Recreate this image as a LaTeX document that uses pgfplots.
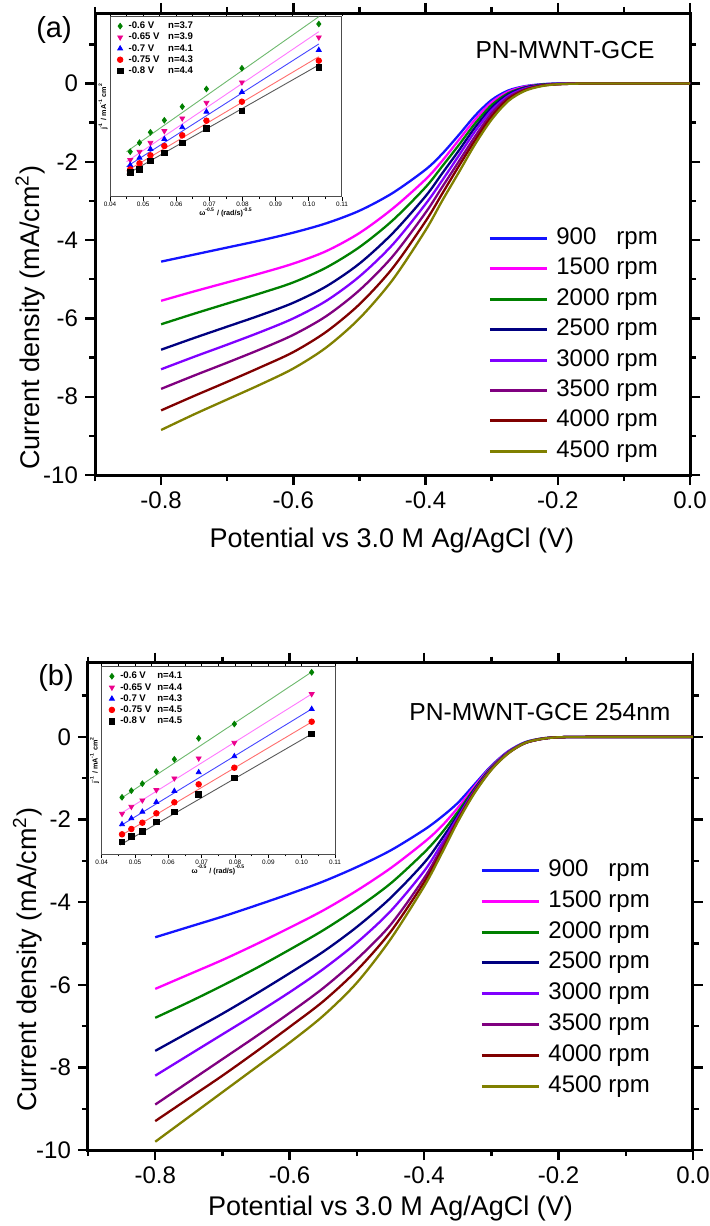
\documentclass[border=0pt]{standalone}
\usepackage{fontspec}
\setmainfont{Liberation Sans}
\usepackage{pgfplots}
\pgfplotsset{compat=1.18}
\usepackage{pgfplotstable}

\definecolor{c900}{RGB}{20,20,255}
\definecolor{c1500}{RGB}{255,0,255}
\definecolor{c2000}{RGB}{0,128,0}
\definecolor{c2500}{RGB}{0,0,128}
\definecolor{c3000}{RGB}{128,0,255}
\definecolor{c3500}{RGB}{128,0,128}
\definecolor{c4000}{RGB}{128,0,0}
\definecolor{c4500}{RGB}{128,128,0}
\definecolor{lgreen}{RGB}{110,185,110}
\definecolor{lmag}{RGB}{255,120,255}
\definecolor{lblue}{RGB}{70,70,255}
\definecolor{lred}{RGB}{255,110,110}
\definecolor{lgray}{RGB}{90,90,90}

\pgfplotstableread{
x a900 a1500 a2000 a2500 a3000 a3500 a4000 a4500
-0.800 -4.55 -5.55 -6.15 -6.80 -7.30 -7.80 -8.35 -8.85
-0.750 -4.37 -5.31 -5.88 -6.50 -6.98 -7.46 -7.98 -8.45
-0.700 -4.19 -5.08 -5.62 -6.21 -6.67 -7.13 -7.62 -8.07
-0.650 -4.01 -4.85 -5.36 -5.92 -6.35 -6.79 -7.25 -7.69
-0.600 -3.81 -4.60 -5.08 -5.60 -6.00 -6.42 -6.86 -7.28
-0.550 -3.57 -4.28 -4.70 -5.18 -5.55 -5.94 -6.34 -6.74
-0.500 -3.25 -3.82 -4.18 -4.60 -4.93 -5.28 -5.64 -6.00
-0.450 -2.80 -3.20 -3.50 -3.83 -4.12 -4.42 -4.72 -5.02
-0.400 -2.20 -2.45 -2.65 -2.88 -3.08 -3.30 -3.52 -3.75
-0.375 -1.80 -1.98 -2.12 -2.30 -2.48 -2.65 -2.82 -3.00
-0.350 -1.32 -1.45 -1.58 -1.72 -1.85 -2.00 -2.12 -2.28
-0.325 -0.82 -0.92 -1.02 -1.12 -1.22 -1.35 -1.45 -1.55
-0.300 -0.42 -0.48 -0.55 -0.62 -0.68 -0.76 -0.84 -0.92
-0.275 -0.18 -0.21 -0.25 -0.28 -0.32 -0.36 -0.40 -0.45
-0.250 -0.07 -0.08 -0.10 -0.11 -0.13 -0.15 -0.17 -0.19
-0.225 -0.02 -0.03 -0.03 -0.04 -0.05 -0.05 -0.06 -0.07
-0.200 0.00 -0.01 -0.01 -0.01 -0.01 -0.02 -0.02 -0.02
-0.150 0 0 0 0 0 0 0 0
0.000 0 0 0 0 0 0 0 0
}\curvesA

\pgfplotstableread{
x b900 b1500 b2000 b2500 b3000 b3500 b4000 b4500
-0.800 -4.85 -6.10 -6.80 -7.60 -8.20 -8.90 -9.30 -9.80
-0.750 -4.60 -5.75 -6.42 -7.15 -7.70 -8.35 -8.75 -9.20
-0.700 -4.35 -5.40 -6.02 -6.70 -7.20 -7.80 -8.20 -8.60
-0.650 -4.08 -5.02 -5.60 -6.22 -6.70 -7.25 -7.62 -8.00
-0.600 -3.80 -4.62 -5.15 -5.72 -6.18 -6.68 -7.02 -7.40
-0.550 -3.50 -4.20 -4.68 -5.20 -5.62 -6.08 -6.40 -6.75
-0.500 -3.15 -3.72 -4.15 -4.60 -4.98 -5.38 -5.65 -5.95
-0.450 -2.75 -3.18 -3.55 -3.90 -4.22 -4.55 -4.72 -4.90
-0.400 -2.25 -2.55 -2.80 -3.05 -3.25 -3.42 -3.52 -3.62
-0.375 -1.95 -2.18 -2.35 -2.50 -2.62 -2.72 -2.80 -2.86
-0.350 -1.60 -1.72 -1.82 -1.90 -1.95 -2.00 -2.03 -2.06
-0.325 -1.15 -1.20 -1.25 -1.28 -1.30 -1.32 -1.34 -1.36
-0.300 -0.70 -0.72 -0.74 -0.76 -0.77 -0.78 -0.79 -0.80
-0.275 -0.35 -0.36 -0.37 -0.38 -0.38 -0.39 -0.40 -0.40
-0.250 -0.13 -0.14 -0.14 -0.15 -0.15 -0.15 -0.15 -0.15
-0.225 -0.04 -0.04 -0.04 -0.05 -0.05 -0.05 -0.05 -0.05
-0.200 -0.01 -0.01 -0.01 -0.01 -0.01 -0.01 -0.01 -0.01
-0.150 0 0 0 0 0 0 0 0
0.000 0 0 0 0 0 0 0 0
}\curvesB

% inset (a): x = omega^-0.5, y in plot units
\pgfplotstableread{
x g m b r k
0.0461 45.0 36.7 31.7 27.4 24.4
0.0489 54.0 45.0 39.0 33.4 27.4
0.0522 64.4 54.0 47.7 41.4 35.7
0.0564 76.4 65.7 57.7 50.7 44.0
0.0618 90.0 78.4 69.4 61.4 54.0
0.0691 107.7 94.0 85.0 76.0 68.4
0.0798 128.4 114.4 104.7 95.0 85.7
0.1030 172.7 159.4 146.7 136.0 129.4
}\insetA

\pgfplotstableread{
x g m b r k
0.0461 56.7 40.3 29.7 19.7 12.0
0.0489 63.3 47.3 35.7 25.0 17.7
0.0522 70.3 53.7 42.3 31.3 22.7
0.0564 82.3 64.0 52.0 40.7 32.0
0.0618 94.7 75.7 63.0 51.7 42.0
0.0691 115.7 95.7 81.7 69.7 59.7
0.0798 130.0 111.3 97.7 86.3 76.3
0.1030 181.7 160.0 145.0 132.3 120.0
}\insetB

\pgfplotsset{
 mainax/.style={
  scale only axis, xmin=-0.9, xmax=0, ymin=-10, ymax=1.8,
  axis line style={line width=1.5pt},
  xtick={-0.8,-0.6,-0.4,-0.2,0}, xticklabels={-0.8,-0.6,-0.4,-0.2,0.0},
  minor xtick={-0.9,-0.7,-0.5,-0.3,-0.1},
  ytick={-10,-8,-6,-4,-2,0}, yticklabels={-10,-8,-6,-4,-2,0},
  minor ytick={-9,-7,-5,-3,-1,1},
  tick align=outside, major tick length=5pt, minor tick length=3pt,
  tick style={line width=1.2pt, black},
  ticklabel style={font=\fontsize{12}{14}\selectfont},
  label style={font=\fontsize{13.5}{16}\selectfont},
  legend cell align=left,
  legend image code/.code={\draw[##1, line width=1.5pt] (0pt,0pt) -- (28.5pt,0pt);},
  legend style={draw=none, fill=none, anchor=north west, inner sep=0pt,
    column sep=4pt, font=\fontsize{12}{14}\selectfont,
    nodes={inner sep=0pt, text height=9pt, text depth=3pt}},
 },
 curve/.style={line width=1.15pt, smooth, tension=0.5},
 inset/.style={
  scale only axis, xmin=0.04, xmax=0.11,
  axis background/.style={fill=white},
  axis line style={line width=0.5pt, black!70},
  xtick={0.04,0.05,0.06,0.07,0.08,0.09,0.10,0.11},
  xticklabels={0.04,0.05,0.06,0.07,0.08,0.09,0.10,0.11},
  minor xtick={0.045,0.055,0.065,0.075,0.085,0.095,0.105},
  ytick=\empty,
  tick align=outside, major tick length=2pt, minor tick length=1.2pt,
  tick style={line width=0.4pt, black},
  ticklabel style={font=\fontsize{3.2}{4}\selectfont, inner sep=0.6pt},
  label style={font=\fontsize{3.6}{4.2}\selectfont\bfseries},
  ylabel={j\textsuperscript{-1} / mA\textsuperscript{-1} cm\textsuperscript{2}},
  xlabel={ω\textsuperscript{-0.5} / (rad/s)\textsuperscript{-0.5}},
  xlabel style={at={(axis description cs:0.5,-0.085)}, anchor=center},
  ylabel style={at={(axis description cs:-0.03,0.5)}, anchor=center, rotate=0},
  legend cell align=left,
  legend image code/.code={\draw[##1] plot coordinates {(1.3pt,0pt)};},
  legend style={draw=none, fill=none, anchor=north west, inner sep=0pt,
    column sep=2.5pt, row sep=0.4pt, font=\fontsize{4.8}{5}\selectfont\bfseries,
    nodes={inner sep=0.3pt, text height=3.6pt, text depth=1pt}},
 },
 fitl/.style={line width=0.45pt},
 mk/.style={only marks, mark size=1.4pt},
}

\begin{document}
\begin{tikzpicture}
\useasboundingbox (0,0) rectangle (355pt,-613pt);

\node[font=\fontsize{14.5}{17}\selectfont] at (27pt,-15pt) {(a)};
\node[font=\fontsize{14.5}{17}\selectfont] at (28pt,-339pt) {(b)};

% ---------- panel (a)
\begin{axis}[mainax, at={(47.5pt,-237.5pt)}, anchor=south west,
  width=297.5pt, height=231pt,
  xlabel={Potential vs 3.0 M Ag/AgCl (V)},
  ylabel={Current density (mA/cm\textsuperscript{2})},
  xlabel style={at={(axis description cs:0.499,-0.141)}, anchor=center},
  ylabel style={at={(axis description cs:-0.109,0.34)}, anchor=center},
  legend style={at={(axis description cs:0.6605,0.5386)}, row sep=3.2pt},
]
\addplot[curve, c900]  table[x=x,y=a900]  {\curvesA}; \addlegendentry{900\hphantom{0} rpm}
\addplot[curve, c1500] table[x=x,y=a1500] {\curvesA}; \addlegendentry{1500 rpm}
\addplot[curve, c2000] table[x=x,y=a2000] {\curvesA}; \addlegendentry{2000 rpm}
\addplot[curve, c2500] table[x=x,y=a2500] {\curvesA}; \addlegendentry{2500 rpm}
\addplot[curve, c3000] table[x=x,y=a3000] {\curvesA}; \addlegendentry{3000 rpm}
\addplot[curve, c3500] table[x=x,y=a3500] {\curvesA}; \addlegendentry{3500 rpm}
\addplot[curve, c4000] table[x=x,y=a4000] {\curvesA}; \addlegendentry{4000 rpm}
\addplot[curve, c4500] table[x=x,y=a4500] {\curvesA}; \addlegendentry{4500 rpm}
\node[font=\fontsize{12.3}{14}\selectfont] at (axis description cs:0.79,0.919) {PN-MWNT-GCE};
\end{axis}

\begin{axis}[inset, at={(55pt,-98.35pt)}, anchor=south west,
  width=116pt, height=90.35pt, ymin=0, ymax=180.7,
  legend style={at={(axis description cs:0.03,0.975)}},
]
\addplot[fitl, lgreen, forget plot] coordinates {(0.045,45) (0.103,180)};
\addplot[fitl, lmag, forget plot] coordinates {(0.045,35) (0.103,165)};
\addplot[fitl, lblue, forget plot] coordinates {(0.045,30) (0.103,152.7)};
\addplot[fitl, lred, forget plot] coordinates {(0.045,25.7) (0.103,140)};
\addplot[fitl, lgray, forget plot] coordinates {(0.045,22.4) (0.103,131.7)};
\addplot[mk, mark=diamond*, color=c2000] table[x=x,y=g] {\insetA};
\addlegendentry{\makebox[19.8pt][l]{-0.6 V}n=3.7}
\addplot[mk, mark=triangle*, mark options={rotate=180}, color=magenta] table[x=x,y=m] {\insetA};
\addlegendentry{\makebox[19.8pt][l]{-0.65 V}n=3.9}
\addplot[mk, mark=triangle*, color=blue] table[x=x,y=b] {\insetA};
\addlegendentry{\makebox[19.8pt][l]{-0.7 V}n=4.1}
\addplot[mk, mark=*, color=red] table[x=x,y=r] {\insetA};
\addlegendentry{\makebox[19.8pt][l]{-0.75 V}n=4.3}
\addplot[mk, mark=square*, color=black] table[x=x,y=k] {\insetA};
\addlegendentry{\makebox[19.8pt][l]{-0.8 V}n=4.4}
\end{axis}

% ---------- panel (b)
\begin{axis}[mainax, at={(44pt,-575pt)}, anchor=south west,
  width=302.5pt, height=243.75pt,
  xlabel={Potential vs 3.0 M Ag/AgCl (V)},
  ylabel={Current density (mA/cm\textsuperscript{2})},
  xlabel style={at={(axis description cs:0.5,-0.12)}, anchor=center},
  ylabel style={at={(axis description cs:-0.1,0.39)}, anchor=center},
  legend style={at={(axis description cs:0.648,0.599)}, row sep=3.4pt},
]
\addplot[curve, c900]  table[x=x,y=b900]  {\curvesB}; \addlegendentry{900\hphantom{0} rpm}
\addplot[curve, c1500] table[x=x,y=b1500] {\curvesB}; \addlegendentry{1500 rpm}
\addplot[curve, c2000] table[x=x,y=b2000] {\curvesB}; \addlegendentry{2000 rpm}
\addplot[curve, c2500] table[x=x,y=b2500] {\curvesB}; \addlegendentry{2500 rpm}
\addplot[curve, c3000] table[x=x,y=b3000] {\curvesB}; \addlegendentry{3000 rpm}
\addplot[curve, c3500] table[x=x,y=b3500] {\curvesB}; \addlegendentry{3500 rpm}
\addplot[curve, c4000] table[x=x,y=b4000] {\curvesB}; \addlegendentry{4000 rpm}
\addplot[curve, c4500] table[x=x,y=b4500] {\curvesB}; \addlegendentry{4500 rpm}
\node[font=\fontsize{12.3}{14}\selectfont] at (axis description cs:0.747,0.898) {PN-MWNT-GCE 254nm};
\end{axis}

\begin{axis}[inset, at={(50.85pt,-427pt)}, anchor=south west,
  width=116.65pt, height=94pt, ymin=0, ymax=188,
  legend style={at={(axis description cs:0.03,0.975)}},
]
\addplot[fitl, lgreen, forget plot] coordinates {(0.0455,55) (0.103,182)};
\addplot[fitl, lmag, forget plot] coordinates {(0.0455,40) (0.103,160)};
\addplot[fitl, lblue, forget plot] coordinates {(0.0455,28) (0.103,145)};
\addplot[fitl, lred, forget plot] coordinates {(0.0455,18) (0.103,132)};
\addplot[fitl, lgray, forget plot] coordinates {(0.0455,9) (0.103,120)};
\addplot[mk, mark=diamond*, color=c2000] table[x=x,y=g] {\insetB};
\addlegendentry{\makebox[18.5pt][l]{-0.6 V}n=4.1}
\addplot[mk, mark=triangle*, mark options={rotate=180}, color=magenta] table[x=x,y=m] {\insetB};
\addlegendentry{\makebox[18.5pt][l]{-0.65 V}n=4.4}
\addplot[mk, mark=triangle*, color=blue] table[x=x,y=b] {\insetB};
\addlegendentry{\makebox[18.5pt][l]{-0.7 V}n=4.3}
\addplot[mk, mark=*, color=red] table[x=x,y=r] {\insetB};
\addlegendentry{\makebox[18.5pt][l]{-0.75 V}n=4.5}
\addplot[mk, mark=square*, color=black] table[x=x,y=k] {\insetB};
\addlegendentry{\makebox[18.5pt][l]{-0.8 V}n=4.5}
\end{axis}
\end{tikzpicture}
\end{document}
